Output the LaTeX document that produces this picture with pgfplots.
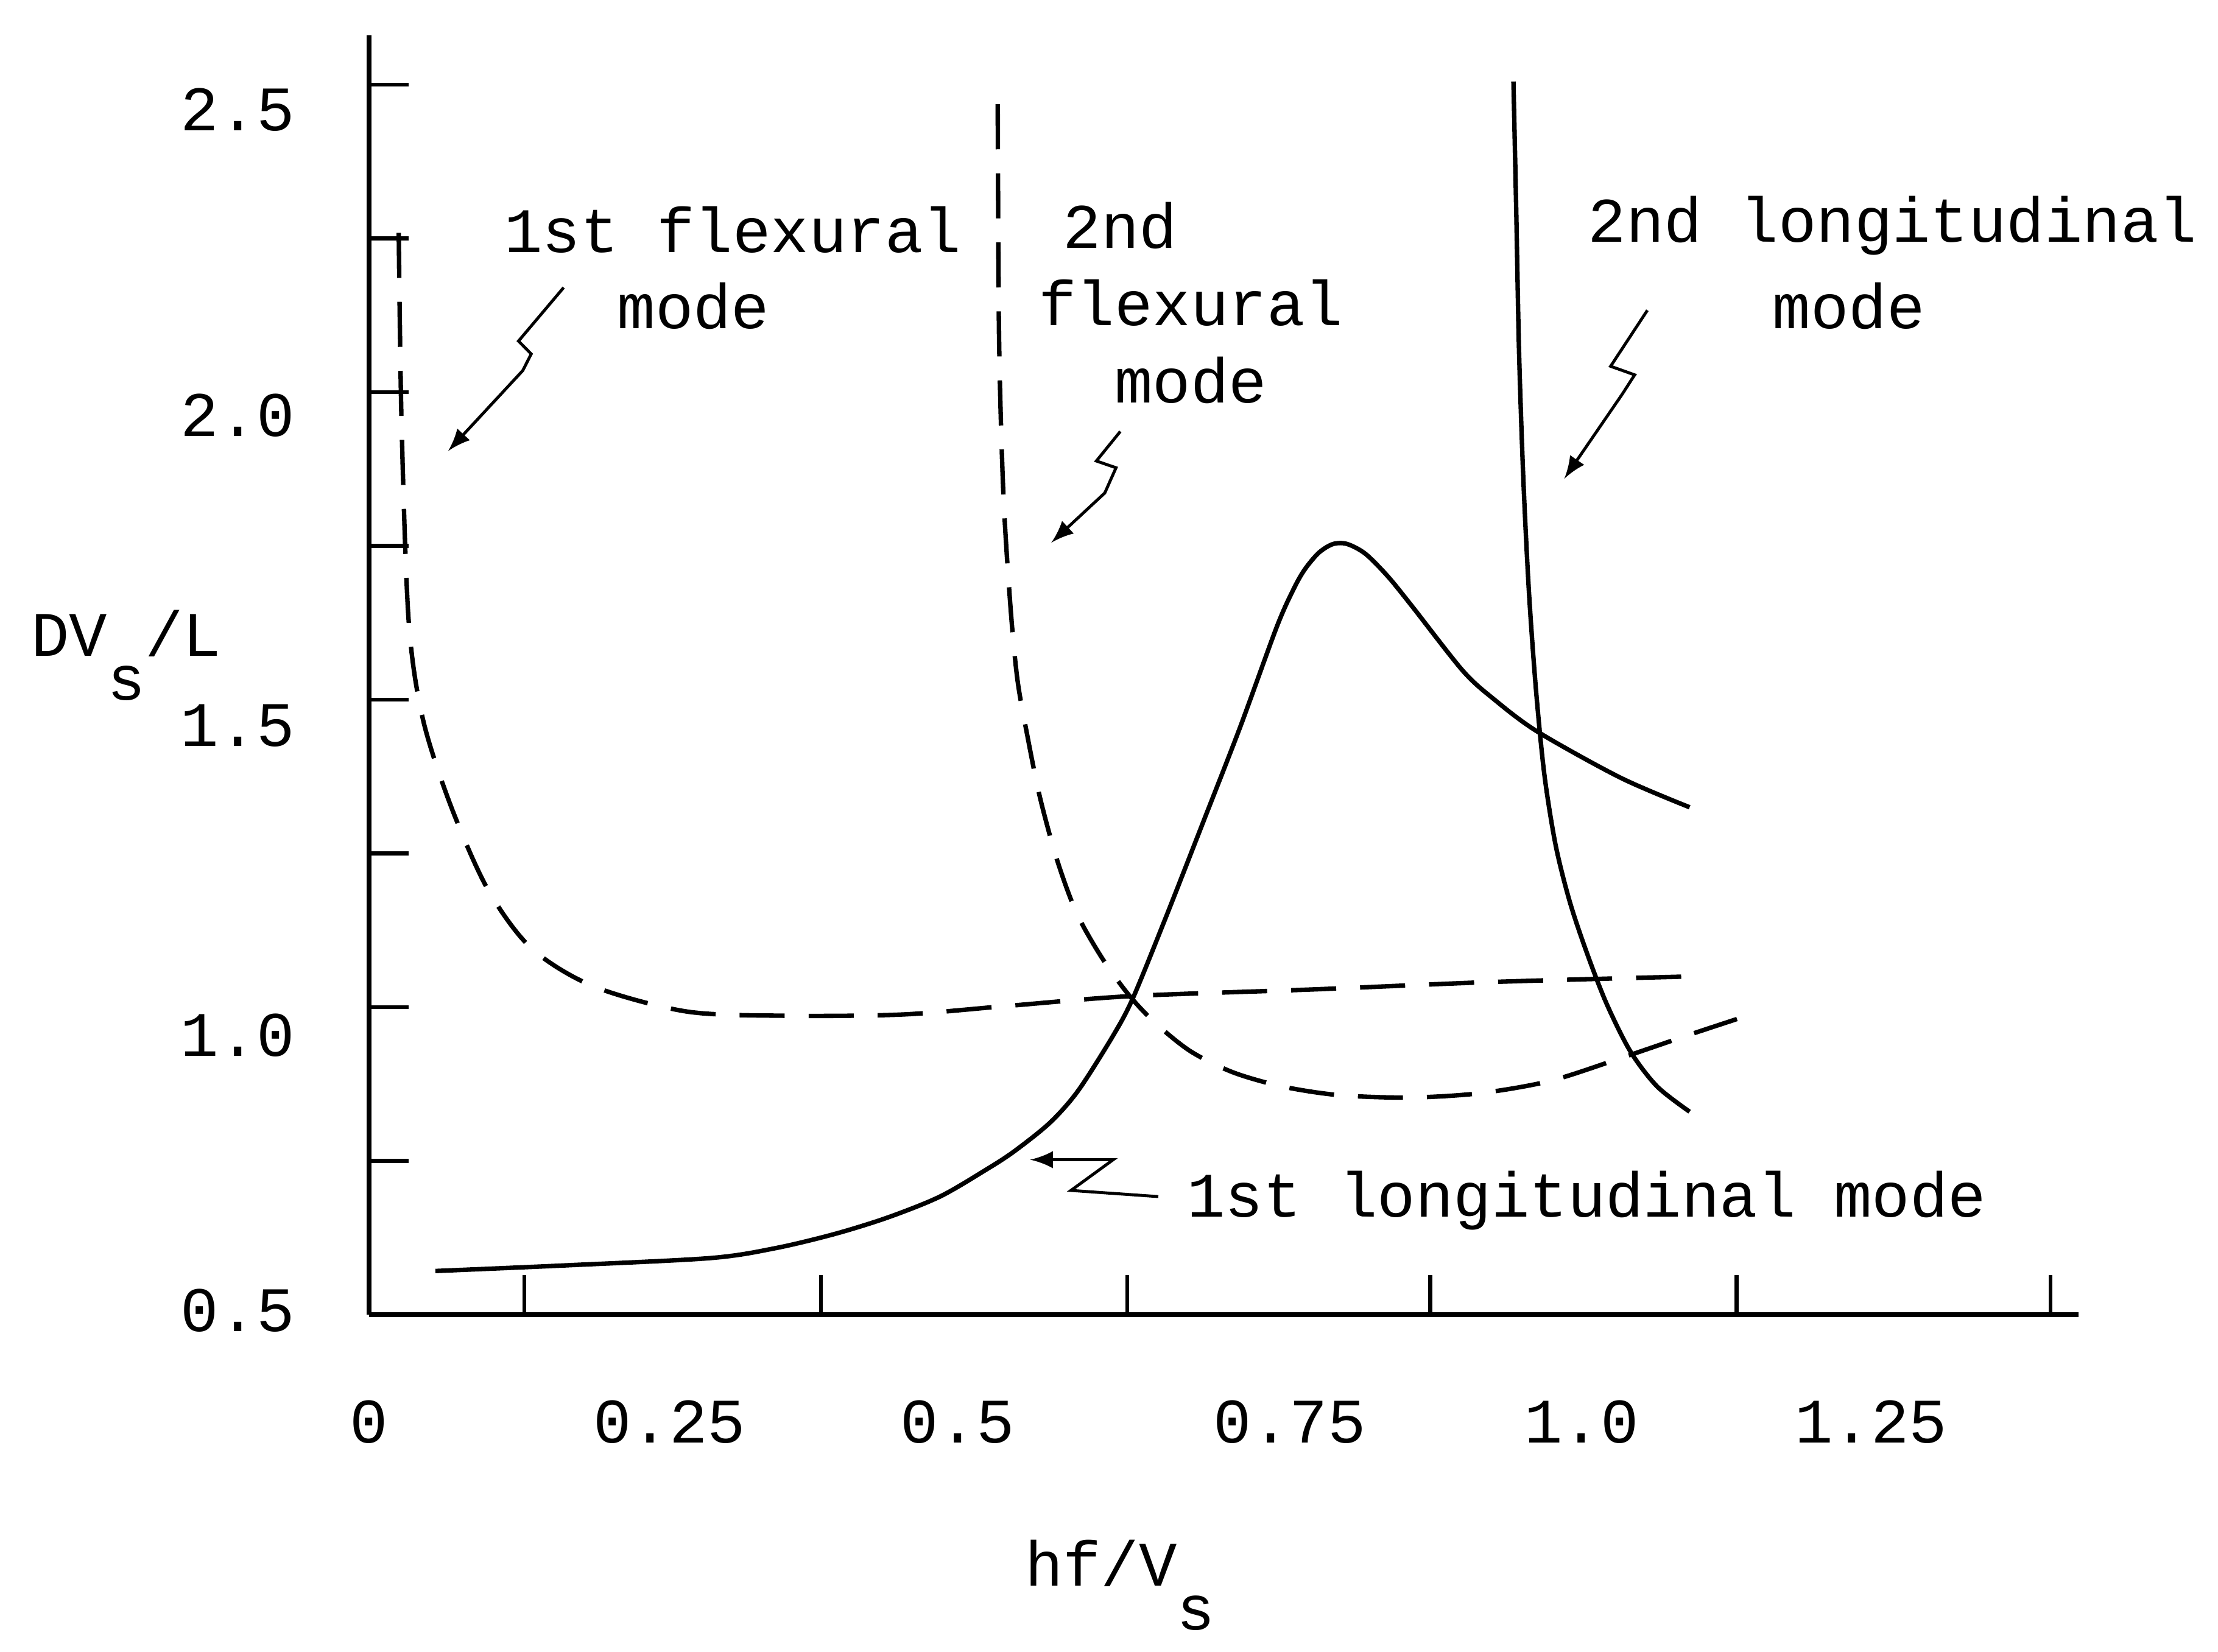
\documentclass[border=0pt]{standalone}
\usepackage{pgfplots}
\pgfplotsset{compat=1.18}
\usepackage{fontspec}
\setmainfont{Liberation Mono}

% curves
\pgfplotstableread{
x y
0.0242 2.259
0.0265 1.950
0.0323 1.629
0.0439 1.469
0.0669 1.327
0.0970 1.192
0.1327 1.096
0.1835 1.034
0.2597 0.993
0.3405 0.986
0.4363 0.988
0.5229 1.002
0.6244 1.018
0.7756 1.029
0.9210 1.041
1.0838 1.050
}\firstflex

\pgfplotstableread{
x y
0.5148 2.468
0.5159 2.088
0.5194 1.836
0.5252 1.652
0.5309 1.533
0.5390 1.442
0.5494 1.341
0.5633 1.240
0.5794 1.153
0.6002 1.080
0.6221 1.020
0.6440 0.974
0.6729 0.928
0.7075 0.894
0.7479 0.871
0.7941 0.857
0.8518 0.853
0.9095 0.860
0.9672 0.880
1.0249 0.917
1.0826 0.956
1.1346 0.990
}\secondflex

\pgfplotstableread{
x y
0.0542 0.571
0.1593 0.580
0.2793 0.592
0.3324 0.608
0.3809 0.631
0.4247 0.658
0.4675 0.692
0.5055 0.736
0.5286 0.766
0.5575 0.812
0.5806 0.864
0.6094 0.954
0.6256 1.015
0.6521 1.144
0.6833 1.302
0.7133 1.455
0.7433 1.618
0.7572 1.680
0.7664 1.712
0.7779 1.739
0.7895 1.753
0.8010 1.753
0.8160 1.737
0.8345 1.700
0.8541 1.652
0.8957 1.547
0.9210 1.501
0.9568 1.448
1.0249 1.373
1.0815 1.325
}\firstlong

\pgfplotstableread{
x y
0.9372 2.505
0.9395 2.294
0.9418 2.065
0.9453 1.859
0.9499 1.675
0.9557 1.515
0.9626 1.377
0.9718 1.263
0.9834 1.171
0.9972 1.089
1.0134 1.006
1.0330 0.928
1.0549 0.871
1.0815 0.830
}\secondlong

\begin{document}
\begin{tikzpicture}
\fontsize{12.8}{15.5}\selectfont
\begin{axis}[
    scale only axis,
    width=12.13cm, height=9.08cm,
    xmin=0, xmax=1.40,
    ymin=0.5, ymax=2.58,
    axis x line=bottom, axis y line=left,
    axis line style={-, line width=1pt},
    tick align=inside,
    major tick length=0.28cm,
    tick style={line width=0.8pt, black},
    xtick={0.127,0.370,0.621,0.869,1.120,1.377}, xticklabels={},
    ytick={0.75,1.0,1.25,1.5,1.75,2.0,2.25,2.5}, yticklabels={},
    extra x ticks={0,0.246,0.482,0.754,0.993,1.230},
    extra x tick labels={0,0.25,0.5,0.75,1.0,1.25},
    extra x tick style={major tick length=0pt, xticklabel style={yshift=-0.45cm}},
    extra y ticks={0.507,0.954,1.458,1.962,2.459},
    extra y tick labels={0.5,1.0,1.5,2.0,2.5},
    extra y tick style={major tick length=0pt, yticklabel style={xshift=-0.37cm}},
    clip=false,
]
\addplot[black, line width=0.9pt, dash pattern=on 0.32cm off 0.17cm, smooth] table {\firstflex};
\addplot[black, line width=0.9pt, dash pattern=on 0.32cm off 0.17cm, smooth] table {\secondflex};
\addplot[black, line width=0.9pt, smooth] table {\firstlong};
\addplot[black, line width=0.9pt, smooth] table {\secondlong};

% labels
\node at (axis cs:0.2978,2.264) {1st flexural};
\node at (axis cs:0.2655,2.140) {mode};
\node at (axis cs:0.6152,2.271) {2nd};
\node at (axis cs:0.6729,2.145) {flexural};
\node at (axis cs:0.6729,2.019) {mode};
\node at (axis cs:1.2477,2.271) {2nd longitudinal};
\node at (axis cs:1.2119,2.140) {mode};
\node at (axis cs:0.9972,0.686) {1st longitudinal mode};

% squiggle arrows
\draw[-latex, line width=0.6pt] (axis cs:0.1593,2.170) -- (axis cs:0.1223,2.083) -- (axis cs:0.1327,2.062) -- (axis cs:0.1258,2.035) -- (axis cs:0.0646,1.904);
\draw[-latex, line width=0.6pt] (axis cs:0.6152,1.936) -- (axis cs:0.5956,1.888) -- (axis cs:0.6117,1.877) -- (axis cs:0.6025,1.836) -- (axis cs:0.5586,1.755);
\draw[-latex, line width=0.6pt] (axis cs:1.0469,2.133) -- (axis cs:1.0168,2.042) -- (axis cs:1.0365,2.028) -- (axis cs:1.0261,1.996) -- (axis cs:0.9788,1.859);
\draw[-latex, line width=0.6pt] (axis cs:0.6463,0.692) -- (axis cs:0.5748,0.702) -- (axis cs:0.6094,0.752) -- (axis cs:0.5413,0.752);

% axis titles
\node at (axis cs:-0.199,1.572) {DV\raisebox{-1.3ex}{s}/L};
\node at (axis cs:0.615,0.06) {hf/V\raisebox{-1.3ex}{s}};

% page extent as in the scan
\path (axis cs:-0.3024,2.6375) rectangle (axis cs:1.5074,-0.0338);
\end{axis}
\end{tikzpicture}
\end{document}
